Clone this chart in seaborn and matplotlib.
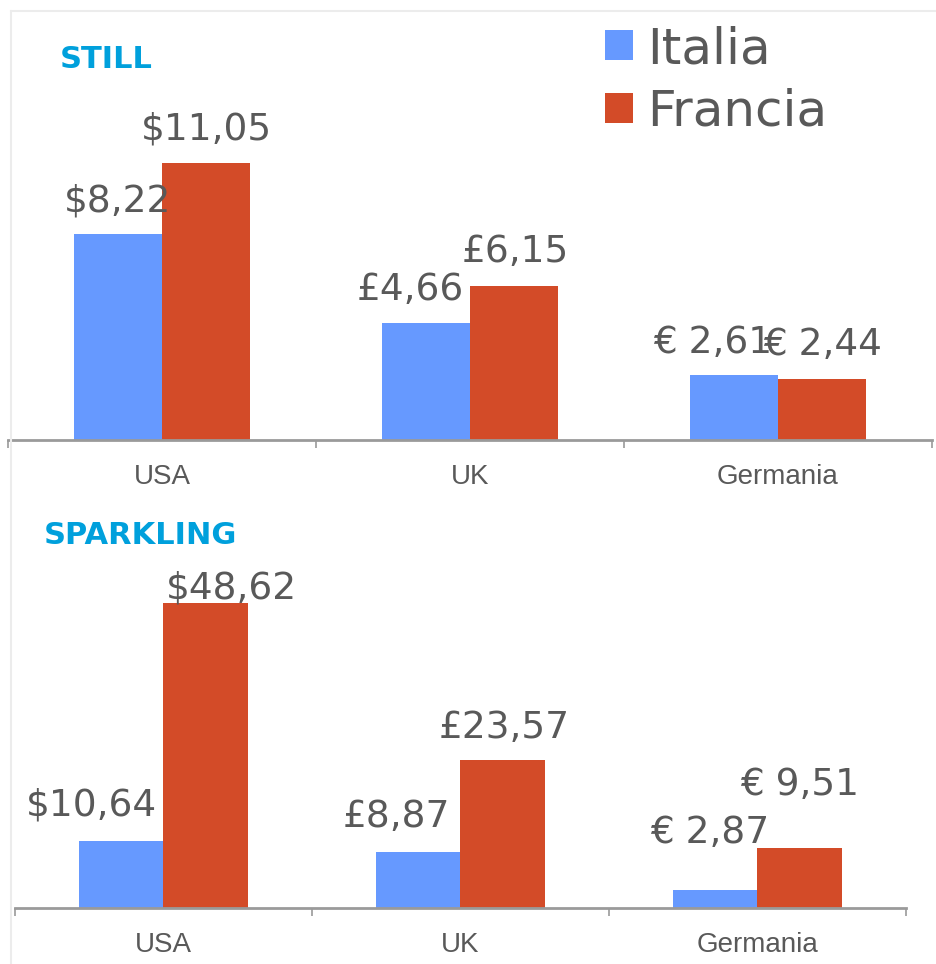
import pandas as pd
import matplotlib.pyplot as plt
import seaborn as sns
from matplotlib.patches import Patch
from matplotlib.lines import Line2D

countries = ["USA", "UK", "Germania"]
series = ["Italia", "Francia"]
still_italia = [8.22, 4.66, 2.61]
still_francia = [11.05, 6.15, 2.44]
sparkling_italia = [10.64, 8.87, 2.87]
sparkling_francia = [48.62, 23.57, 9.51]
still_labels_italia = ["$8,22", "£4,66", "€ 2,61"]
still_labels_francia = ["$11,05", "£6,15", "€ 2,44"]
sparkling_labels_italia = ["$10,64", "£8,87", "€ 2,87"]
sparkling_labels_francia = ["$48,62", "£23,57", "€ 9,51"]

# label offsets in pixels (dx, dy) from bar top
still_off_italia = [(0, 32), (-16, 33), (-21, 32)]
still_off_francia = [(0, 33), (1, 34), (0, 34)]
spark_off_italia = [(-30, 36), (-22, 35), (-5, 57)]
spark_off_francia = [(25, 15), (1, 32), (0, 63)]

BLUE = "#6699ff"
RED = "#d34b28"
GRAY_TXT = "#595959"
TITLE_BLUE = "#00a0dc"

sns.set_style("white")
plt.rcParams['font.family'] = ['DejaVu Sans']

W, H = 936, 964
fig = plt.figure(figsize=(W / 100, H / 100), dpi=100)


def px_axes(x0, x1, ytop, ybot):
    return fig.add_axes([x0 / W, 1 - ybot / H, (x1 - x0) / W, (ybot - ytop) / H])


def draw_panel(ax, italia, francia, lab_i, lab_f, off_i, off_f, ymax):
    df = pd.DataFrame({
        "country": countries * 2,
        "series": [series[0]] * 3 + [series[1]] * 3,
        "value": italia + francia,
    })
    sns.barplot(data=df, x="country", y="value", hue="series", order=countries,
                hue_order=series, palette=[BLUE, RED], width=0.572, gap=0,
                saturation=1, ax=ax, legend=False, linewidth=0)
    ax.set_xlim(-0.5, 2.5)
    ax.set_ylim(0, ymax)
    ax.set_xlabel("")
    ax.set_ylabel("")
    ax.set_yticks([])
    for s in ["top", "left", "right"]:
        ax.spines[s].set_visible(False)
    ax.spines["bottom"].set_color("#9a9a9a")
    ax.spines["bottom"].set_linewidth(2)
    ax.set_xticks([0, 1, 2])
    ax.set_xticklabels(countries, fontfamily="Liberation Sans", fontsize=20, color=GRAY_TXT)
    ax.tick_params(axis="x", which="major", length=0, pad=17)
    ax.set_xticks([-0.5, 0.5, 1.5, 2.5], minor=True)
    ax.tick_params(axis="x", which="minor", bottom=True, length=6, width=1.2,
                   color="#9a9a9a", direction="out")
    for cont, labs, offs in zip(ax.containers, [lab_i, lab_f], [off_i, off_f]):
        for bar, lab, (dx, dy) in zip(cont, labs, offs):
            x = bar.get_x() + bar.get_width() / 2
            y = bar.get_height()
            ax.annotate(lab, (x, y), xytext=(dx, dy), textcoords="offset pixels",
                        ha="center", va="center", fontsize=27, color=GRAY_TXT)


ax1 = px_axes(8, 932, 20, 440)
draw_panel(ax1, still_italia, still_francia, still_labels_italia, still_labels_francia,
           still_off_italia, still_off_francia, 420 / 25.07)

ax2 = px_axes(15, 906, 560, 908)
draw_panel(ax2, sparkling_italia, sparkling_francia, sparkling_labels_italia,
           sparkling_labels_francia, spark_off_italia, spark_off_francia, 348 / 6.27)

fig.text(60 / W, 1 - 60 / H, "STILL", fontsize=22, fontweight="bold", color=TITLE_BLUE,
         ha="left", va="center")
fig.text(44 / W, 1 - 535 / H, "SPARKLING", fontsize=22, fontweight="bold", color=TITLE_BLUE,
         ha="left", va="center")

handles = [Patch(facecolor=BLUE, edgecolor="none"), Patch(facecolor=RED, edgecolor="none")]
fig.legend(handles, series, loc="upper left", bbox_to_anchor=(605 / W, 1 - 25 / H),
           bbox_transform=fig.transFigure, frameon=False, fontsize=36,
           handlelength=0.55, handleheight=0.55, handletextpad=0.3,
           labelspacing=0.3, borderpad=0, borderaxespad=0, labelcolor=GRAY_TXT)

# faint outer frame
fig.add_artist(Line2D([11 / W, 1], [1 - 11 / H, 1 - 11 / H], transform=fig.transFigure,
                      color="#ececec", linewidth=1.5))
fig.add_artist(Line2D([11 / W, 11 / W], [0, 1 - 11 / H], transform=fig.transFigure,
                      color="#ececec", linewidth=1.5))

fig.savefig("out.png", dpi=100)
